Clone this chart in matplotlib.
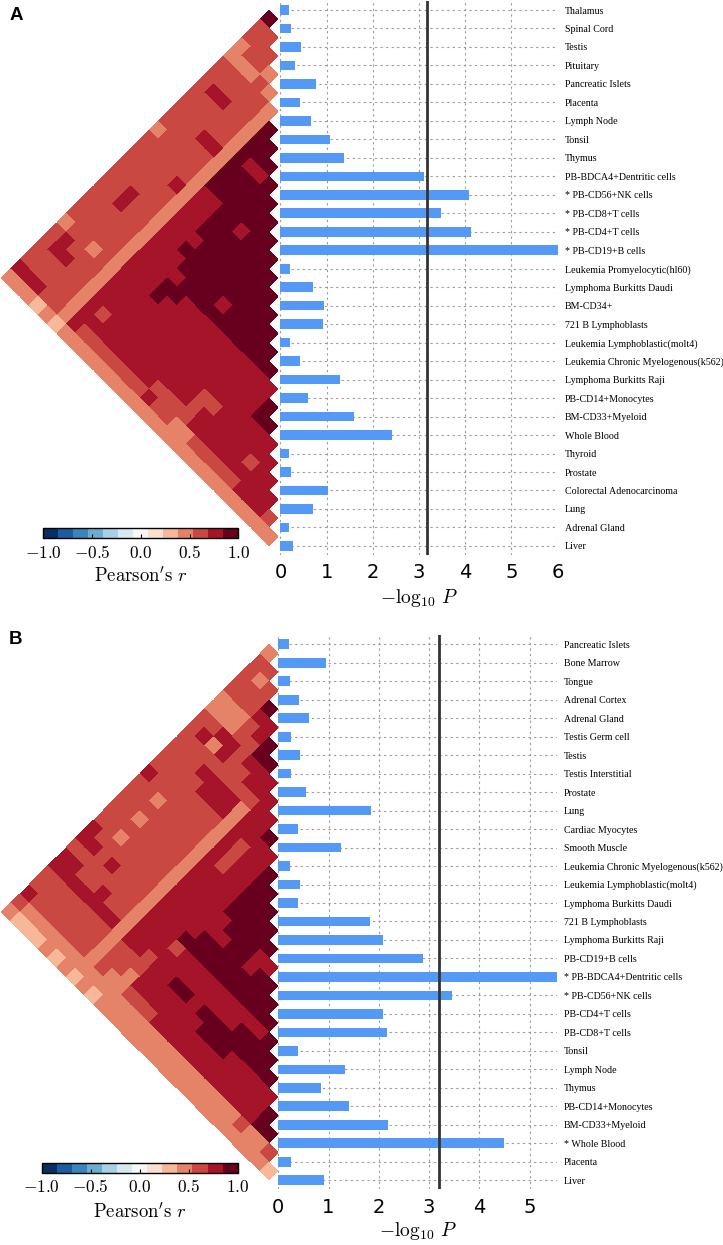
import numpy as np
import matplotlib
matplotlib.use("Agg")
import matplotlib.pyplot as plt
from matplotlib.colors import Normalize

plt.rcParams['mathtext.fontset'] = 'cm'

# ---------------- data ----------------
tissues_a = ["Thalamus", "Spinal Cord", "Testis", "Pituitary", "Pancreatic Islets",
             "Placenta", "Lymph Node", "Tonsil", "Thymus", "PB-BDCA4+Dentritic cells",
             "* PB-CD56+NK cells", "* PB-CD8+T cells", "* PB-CD4+T cells", "* PB-CD19+B cells",
             "Leukemia Promyelocytic(hl60)", "Lymphoma Burkitts Daudi", "BM-CD34+",
             "721 B Lymphoblasts", "Leukemia Lymphoblastic(molt4)",
             "Leukemia Chronic Myelogenous(k562)", "Lymphoma Burkitts Raji",
             "PB-CD14+Monocytes", "BM-CD33+Myeloid", "Whole Blood", "Thyroid", "Prostate",
             "Colorectal Adenocarcinoma", "Lung", "Adrenal Gland", "Liver"]
neglogp_a = [0.19, 0.24, 0.45, 0.31, 0.77, 0.43, 0.67, 1.07, 1.37, 3.11,
             4.07, 3.48, 4.12, 6.00, 0.21, 0.71, 0.94, 0.93, 0.21, 0.42,
             1.30, 0.59, 1.59, 2.41, 0.19, 0.23, 1.04, 0.71, 0.19, 0.27]
threshold_a = 3.18

tissues_b = ["Pancreatic Islets", "Bone Marrow", "Tongue", "Adrenal Cortex", "Adrenal Gland",
             "Testis Germ cell", "Testis", "Testis Interstitial", "Prostate", "Lung",
             "Cardiac Myocytes", "Smooth Muscle", "Leukemia Chronic Myelogenous(k562)",
             "Leukemia Lymphoblastic(molt4)", "Lymphoma Burkitts Daudi", "721 B Lymphoblasts",
             "Lymphoma Burkitts Raji", "PB-CD19+B cells", "* PB-BDCA4+Dentritic cells",
             "* PB-CD56+NK cells", "PB-CD4+T cells", "PB-CD8+T cells", "Tonsil", "Lymph Node",
             "Thymus", "PB-CD14+Monocytes", "BM-CD33+Myeloid", "* Whole Blood", "Placenta", "Liver"]
neglogp_b = [0.22, 0.94, 0.23, 0.41, 0.61, 0.25, 0.43, 0.25, 0.56, 1.85,
             0.39, 1.24, 0.23, 0.43, 0.39, 1.82, 2.09, 2.87, 5.54, 3.46,
             2.09, 2.16, 0.39, 1.33, 0.84, 1.41, 2.18, 4.50, 0.25, 0.91]
threshold_b = 3.19

# Pearson r between tissue i and tissues j>i, coded by colour class:
# '8'~0.31, '9'~0.46, 'a'~0.62, 'b'~0.77, 'c'~0.92
r_codes = {'8': 0.31, '9': 0.46, 'a': 0.62, 'b': 0.77, 'c': 0.92}

corr_a_rows = [
    "caa99aaaaaaa9aaaaaaaaa9aaaab9",
    "aaa9aab" + "aaaaaaaaaaaaaaa" + "bbaab9",
    "aa9aab" + "aaaaaaaaa" + "bb" + "aaaaa" + "baab9",
    "9a" + "aaaaa" + "b" + "aaaaaaaaaaa" + "9" + "aaaaa" + "8",
    "9" + "aaaaa" + "b" + "aaa" + "b" + "aaaaaaaaaaaaa" + "9",
    "99999999999999999999999" + "8",
    "ccccccc" + "bbbbbbbbbbbbbbb" + "9",
    "cc" + "b" + "ccc" + "bbbbbbbbbbbb" + "a" + "b" + "a" + "9",
    "c" + "b" + "cccccc" + "b" + "c" + "bbbbbbbbb" + "a" + "9",
    "cccccccccc" + "b" + "cc" + "bbbbb" + "a" + "9",
    "ccc" + "b" + "cccccc" + "c" + "bbbbbb" + "a" + "9",
    "ccccccccc" + "bbbbbbb" + "a" + "9",
    "cccccccc" + "bbbbbbb" + "a" + "9",
    "ccccc" + "b" + "c" + "bbbbbbb" + "a" + "9",
    "cccccc" + "bbbbbb" + "a" + "b" + "9",
    "ccccc" + "bbbbbb" + "aa9",
    "cccc" + "bbbbbb" + "a" + "a" + "9",
    "ccc" + "bbbb" + "aa" + "a" + "9",
    "cc" + "bbbb" + "a" + "b" + "b" + "9",
    "c" + "bbbbbbb" + "a" + "9",
    "bbbbbbb" + "a9",
    "cc" + "bbbb" + "a9",
    "c" + "bbbb" + "a9",
    "bbaba9",
    "bbbb9",
    "bbb9",
    "bb9",
    "a9",
    "9",
]

corr_b_rows = [
    "9aaaa99" + "aaaaaa" + "b" + "aaaaa" + "bb" + "a" + "bb" + "aa" + "b" + "a" + "9",
    "a9aa99ab" + "aaaaaaaaaaa" + "b" + "a" + "bb" + "aaa" + "98",
    "aaa99b9" + "aaaaa" + "9a9a9" + "aaaa" + "b" + "aaa" + "98",
    "cbaabbab" + "a" + "aaaaaaaa" + "b" + "aa" + "b" + "aaa" + "98",
    "bbaaaabba" + "aaaaaaaaa" + "bb" + "aaa" + "99",
    "ccbaabba" + "aaaaaaaaaa" + "b" + "aaa" + "98",
    "cbbabb" + "aaaaaaaaaaa" + "b" + "aaa" + "99",
    "bba" + "999999999999999999" + "8",
    "bbbbb" + "bbbbbbbb" + "bbb" + "aaa" + "99",
    "bbbaaa" + "bbbbbbbbb" + "aa" + "99" + "8",
    "c" + "bbbbbbbbbbbb" + "aa" + "9999",
    "bbbbbbbb" + "b" + "c" + "a" + "bbb" + "b" + "a" + "99",
    "ccccc" + "bb" + "cc" + "bbbbb" + "a" + "99",
    "ccccc" + "b" + "cc" + "bb" + "c" + "bb" + "a" + "99",
    "ccccc" + "cc" + "bb" + "c" + "bbb" + "99",
    "ccccc" + "c" + "bbbbb" + "b" + "99",
    "cbbcc" + "bb" + "c" + "bbb" + "99",
    "bccc" + "bb" + "cc" + "bb" + "99",
    "ccc" + "bb" + "cc" + "bb" + "99",
    "cc" + "b" + "ccc" + "bb" + "99",
    "c" + "b" + "cc" + "bbb" + "99",
    "ccc" + "bbb" + "99",
    "ccbbb99",
    "cbbb99",
    "bbba9",
    "cc99",
    "c99",
    "a9",
    "8",
]

# ---------------- figure ----------------
W, H = 723, 1245
fig = plt.figure(figsize=(W / 100, H / 100), dpi=100)


def ax_px(l, t, r, b):
    return fig.add_axes([l / W, 1 - b / H, (r - l) / W, (b - t) / H])


cmap = plt.get_cmap('RdBu_r', 13)
norm = Normalize(vmin=-1, vmax=1)
BAR_COLOR = '#5599f7'


def build_matrix(rows, n):
    C = np.full((n, n), np.nan)
    for i, s in enumerate(rows):
        need = n - 1 - i
        s = (s + s[-1] * need)[:need]
        for k, ch in enumerate(s):
            C[i, i + 1 + k] = r_codes[ch]
    return np.ma.masked_invalid(C)


def panel(tissues, vals, thr, rows, row0, tip_x, bar_l, bar_r, cbar_rect, cb_label_y,
          xlabel_y, letter, letter_xy):
    n = len(tissues)
    s = 18.48
    top = row0 - s / 2
    bot = row0 + (n - 0.5) * s

    # ---- triangular heatmap (rotated 45 degrees) ----
    axh = ax_px(tip_x - n / 2 * s, top, tip_x, bot)
    C = build_matrix(rows, n)
    a, b = np.meshgrid(np.arange(n + 1), np.arange(n + 1), indexing='ij')
    Xg = -(b - a) / 2.0
    Yg = (a + b) / 2.0 - 0.5
    mesh = axh.pcolormesh(Xg, Yg, C, cmap=cmap, norm=norm, shading='flat',
                          edgecolors='none', antialiased=False)
    axh.set_xlim(-n / 2, 0)
    axh.set_ylim(n - 0.5, -0.5)
    axh.axis('off')

    # ---- bars ----
    ax = ax_px(bar_l, top, bar_r, bot)
    ypos = np.arange(n)
    ax.barh(ypos, vals, height=0.52, color=BAR_COLOR, zorder=3)
    ax.axvline(thr, color='#333333', lw=2.0, zorder=4)
    ax.set_xlim(0, max(vals))
    ax.set_ylim(n - 0.5, -0.5)
    ax.set_axisbelow(True)
    ax.grid(True, which='major', axis='both', linestyle=(0, (2, 3)),
            color='#9a9a9a', lw=0.8)
    for sp in ax.spines.values():
        sp.set_visible(False)
    ax.set_yticks(ypos)
    ax.set_yticklabels(tissues, family='Liberation Serif', fontsize=7.2)
    ax.yaxis.tick_right()
    ax.tick_params(axis='y', length=0, pad=5)
    ax.set_xticks(np.arange(0, int(np.floor(max(vals))) + 1))
    ax.tick_params(axis='x', length=0, pad=6, labelsize=14)
    for t in ax.get_xticklabels():
        t.set_family('DejaVu Sans')
    fig.text((bar_l + bar_r) / 2 / W, 1 - xlabel_y / H, r'$-\log_{10}\,P$',
             ha='center', va='center', fontsize=14)

    # ---- colorbar ----
    cax = ax_px(*cbar_rect)
    cb = fig.colorbar(mesh, cax=cax, orientation='horizontal')
    cb.set_ticks([-1, -0.5, 0, 0.5, 1])
    cb.set_ticklabels([r'$-1.0$', r'$-0.5$', r'$0.0$', r'$0.5$', r'$1.0$'])
    cax.tick_params(direction='in', length=3, width=0.8, labelsize=12.5, pad=4)
    cb.outline.set_linewidth(1.0)
    cx = (cbar_rect[0] + cbar_rect[2]) / 2
    fig.text(cx / W, 1 - cb_label_y / H, r"$\mathrm{Pearson's}\ r$",
             ha='center', va='center', fontsize=13.5)

    fig.text(letter_xy[0] / W, 1 - letter_xy[1] / H, letter, ha='center', va='center',
             family='Liberation Sans', weight='bold', fontsize=13.5)


panel(tissues_a, neglogp_a, threshold_a, corr_a_rows, row0=10.0, tip_x=278.3,
      bar_l=280.4, bar_r=557.7, cbar_rect=(43.3, 528.3, 238.3, 538.3), cb_label_y=576,
      xlabel_y=598, letter='A', letter_xy=(16.5, 15))
panel(tissues_b, neglogp_b, threshold_b, corr_b_rows, row0=644.3, tip_x=278.3,
      bar_l=278.3, bar_r=556.7, cbar_rect=(41.7, 1163.3, 237.7, 1172.7), cb_label_y=1212,
      xlabel_y=1231, letter='B', letter_xy=(15, 639))

fig.savefig('out.png', dpi=100)
